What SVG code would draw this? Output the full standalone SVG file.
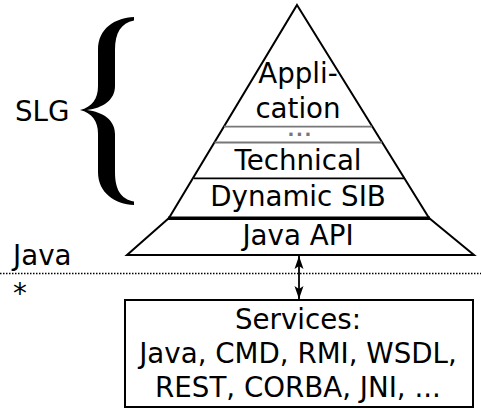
<svg xmlns="http://www.w3.org/2000/svg" width="481" height="409" viewBox="0 0 481 409">
<style>
text{font-family:"DejaVu Sans","Liberation Sans",sans-serif;font-size:27.7px;fill:#000}
.m{text-anchor:middle}
.ol{fill:none;stroke:#000;stroke-width:2;stroke-linejoin:miter}
.gray{stroke:#777;stroke-width:1.8}
</style>
<defs>
<marker id="ah" viewBox="-14 -5 15 10" refX="0" refY="0" markerWidth="15" markerHeight="10" markerUnits="userSpaceOnUse" orient="auto-start-reverse">
<path d="M0,0 L-13,-4.5 L-10,0 L-13,4.5 Z" fill="#000"/>
</marker>
</defs>
<rect width="481" height="409" fill="#fff"/>
<g id="slg-label">
<text x="15" y="121">SLG</text>
<path d="M134,17 C115,18 98,28 98,50 L98,86 C98,99 92,107 80,110 C92,113 98,121 98,134 L98,172 C98,193 115,204 134,205 L134,201.5 C121,199 115,190 115,172 L115,134 C115,120 103,112 87,110 C103,108 115,100 115,86 L115,50 C115,33 121,23 134,20.5 Z" fill="#000"/>
</g>
<g id="pyramid">
<path class="ol" d="M297,5 L429,218 L169,218 Z"/>
<line class="gray" x1="224" y1="126.7" x2="372" y2="126.7"/>
<line class="gray" x1="214.5" y1="142.5" x2="382" y2="142.5"/>
<line x1="194" y1="178.3" x2="404" y2="178.3" stroke="#000" stroke-width="1.8"/>
<line x1="168" y1="218.3" x2="430" y2="218.3" stroke="#000" stroke-width="3.5"/>
</g>
<g id="application">
<text class="m" x="298" y="83">Appli-</text>
<text class="m" x="298" y="118">cation</text>
</g>
<g id="dots">
<text x="287.5" y="136" style="fill:#777;font-weight:bold;font-size:18px;letter-spacing:1.7px">...</text>
</g>
<g id="technical">
<text class="m" x="298" y="170">Technical</text>
</g>
<g id="dynamic-sib">
<text class="m" x="298" y="206">Dynamic SIB</text>
</g>
<g id="java-api">
<path class="ol" d="M169,218 L429,218 L474,255 L127,255 Z"/>
<text class="m" x="298" y="245">Java API</text>
</g>
<g id="boundary">
<text x="13" y="265">Java</text>
<line x1="0" y1="273.5" x2="481" y2="273.5" stroke="#000" stroke-width="1.5" stroke-dasharray="1.5 1.5"/>
<text x="13" y="303">*</text>
</g>
<g id="services">
<rect class="ol" x="125" y="300" width="348" height="107"/>
<text class="m" x="298" y="329">Services:</text>
<text class="m" x="298" y="363">Java, CMD, RMI, WSDL,</text>
<text class="m" x="298" y="397">REST, CORBA, JNI, ...</text>
</g>
<g id="connectors">
<line x1="299" y1="256" x2="299" y2="299" stroke="#000" stroke-width="1.8" marker-start="url(#ah)" marker-end="url(#ah)"/>
</g>
</svg>
